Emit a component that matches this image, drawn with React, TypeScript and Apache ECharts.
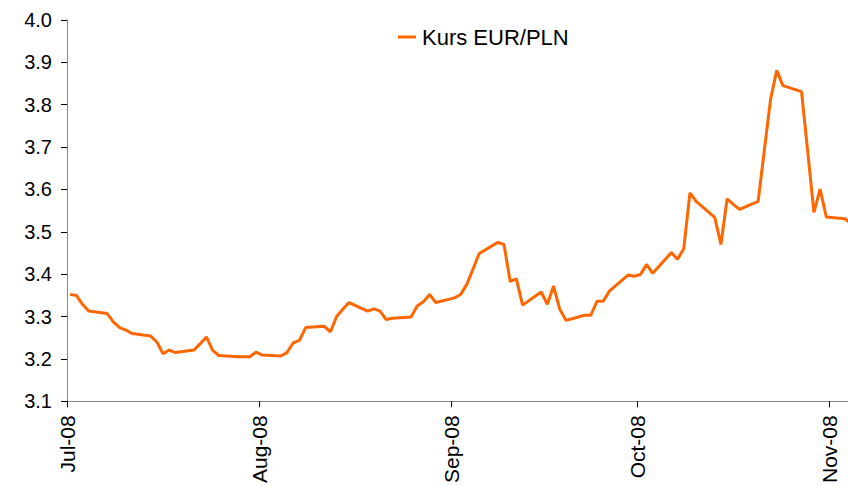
import React, { useEffect, useRef } from "react";
import * as echarts from "echarts";

const dates: string[] = [
  "2008-07-01", "2008-07-02", "2008-07-03", "2008-07-04", "2008-07-07", "2008-07-08", "2008-07-09", "2008-07-10", "2008-07-11",
  "2008-07-14", "2008-07-15", "2008-07-16", "2008-07-17", "2008-07-18", "2008-07-21", "2008-07-22", "2008-07-23", "2008-07-24",
  "2008-07-25", "2008-07-28", "2008-07-29", "2008-07-30", "2008-07-31", "2008-08-01", "2008-08-04", "2008-08-05", "2008-08-06",
  "2008-08-07", "2008-08-08", "2008-08-11", "2008-08-12", "2008-08-13", "2008-08-14", "2008-08-15", "2008-08-18", "2008-08-19",
  "2008-08-20", "2008-08-21", "2008-08-22", "2008-08-25", "2008-08-26", "2008-08-27", "2008-08-28", "2008-08-29", "2008-09-01",
  "2008-09-02", "2008-09-03", "2008-09-04", "2008-09-05", "2008-09-08", "2008-09-09", "2008-09-10", "2008-09-11", "2008-09-12",
  "2008-09-15", "2008-09-16", "2008-09-17", "2008-09-18", "2008-09-19", "2008-09-22", "2008-09-23", "2008-09-24", "2008-09-25",
  "2008-09-26", "2008-09-29", "2008-09-30", "2008-10-01", "2008-10-02", "2008-10-03", "2008-10-06", "2008-10-07", "2008-10-08",
  "2008-10-09", "2008-10-10", "2008-10-13", "2008-10-14", "2008-10-15", "2008-10-16", "2008-10-17", "2008-10-20", "2008-10-21",
  "2008-10-22", "2008-10-23", "2008-10-24", "2008-10-27", "2008-10-28", "2008-10-29", "2008-10-30", "2008-10-31", "2008-11-03",
  "2008-11-04",
];

const rates: number[] = [
  3.352, 3.350, 3.329, 3.313, 3.307, 3.287, 3.274, 3.268, 3.260,
  3.254, 3.240, 3.212, 3.221, 3.215, 3.221, 3.236, 3.252, 3.220,
  3.208, 3.205, 3.205, 3.205, 3.216, 3.209, 3.207, 3.215, 3.238,
  3.244, 3.274, 3.277, 3.264, 3.300, 3.317, 3.333, 3.313, 3.318,
  3.313, 3.293, 3.296, 3.299, 3.325, 3.335, 3.352, 3.333, 3.344,
  3.352, 3.376, 3.412, 3.449, 3.475, 3.470, 3.383, 3.389, 3.327,
  3.358, 3.329, 3.372, 3.317, 3.291, 3.303, 3.303, 3.336, 3.336,
  3.360, 3.398, 3.395, 3.399, 3.423, 3.402, 3.451, 3.435, 3.460,
  3.592, 3.572, 3.534, 3.470, 3.578, 3.565, 3.553, 3.572, 3.692,
  3.812, 3.881, 3.845, 3.831, 3.690, 3.546, 3.601, 3.535, 3.531,
  3.520,
];

const monthTicks: string[] = ["2008-07-01", "2008-08-01", "2008-09-01", "2008-10-01", "2008-11-01"];
const monthLabels: string[] = ["Jul-08", "Aug-08", "Sep-08", "Oct-08", "Nov-08"];
const axisStart = "2008-07-01";
const axisEnd = "2008-11-04";
const seriesName = "Kurs EUR/PLN";

const DAY = 86400000;
const base = Date.UTC(2008, 6, 1);
// day number (from axisStart) of a date, optionally shifted within the day
const dayNum = (d: string, frac = 0) => {
  const [y, m, dd] = d.split("-").map(Number);
  return (Date.UTC(y, m - 1, dd) - base) / DAY + frac;
};

export default function App() {
  const ref = useRef<HTMLDivElement>(null);
  useEffect(() => {
    if (!ref.current) return;
    const chart = echarts.init(ref.current, null, { renderer: "svg" });
    const tickVals = monthTicks.map((d) => dayNum(d));
    const font = "'Liberation Sans', Arial, sans-serif";
    chart.setOption({
      animation: false,
      legend: {
        left: 393,
        top: 21,
        icon: "rect",
        itemWidth: 18,
        itemHeight: 3,
        itemGap: 10,
        textStyle: { fontFamily: font, fontSize: 22, color: "#000", padding: [0, 0, 0, 1] },
        data: [seriesName],
      },
      grid: { left: 67, right: 0, top: 20, bottom: 84, containLabel: false },
      xAxis: {
        type: "value",
        min: dayNum(axisStart),
        max: dayNum(axisEnd),
        splitLine: { show: false },
        axisLine: { lineStyle: { color: "#868686", width: 1 } },
        axisTick: {
          show: true,
          length: 6,
          customValues: tickVals,
          lineStyle: { color: "#000" },
        },
        minorTick: { show: false },
        axisLabel: {
          customValues: tickVals,
          rotate: 90,
          margin: 14,
          fontFamily: font,
          fontSize: 21,
          color: "#000",
          showMinLabel: true,
          showMaxLabel: true,
          formatter: (v: number) => {
            let best = 0;
            tickVals.forEach((t, i) => {
              if (Math.abs(t - v) < Math.abs(tickVals[best] - v)) best = i;
            });
            return monthLabels[best];
          },
        },
      },
      yAxis: {
        type: "value",
        min: 3.1,
        max: 4.0,
        interval: 0.1,
        splitLine: { show: false },
        axisLine: { show: true, lineStyle: { color: "#868686", width: 1 } },
        axisTick: { show: true, length: 6, lineStyle: { color: "#000" } },
        axisLabel: {
          margin: 15,
          fontFamily: font,
          fontSize: 20,
          color: "#000",
          formatter: (v: number) => v.toFixed(1),
        },
      },
      series: [
        {
          name: seriesName,
          type: "line",
          data: dates.map((d, i) => [dayNum(d, 0.5), rates[i]]),
          showSymbol: false,
          symbol: "none",
          clip: true,
          lineStyle: { color: "#FF6600", width: 3 },
          itemStyle: { color: "#FF6600" },
        },
      ],
    });
    return () => chart.dispose();
  }, []);
  return (
    <div
      ref={ref}
      style={{ position: "fixed", left: 0, top: 0, width: 848, height: 486, background: "#fff" }}
    />
  );
}
